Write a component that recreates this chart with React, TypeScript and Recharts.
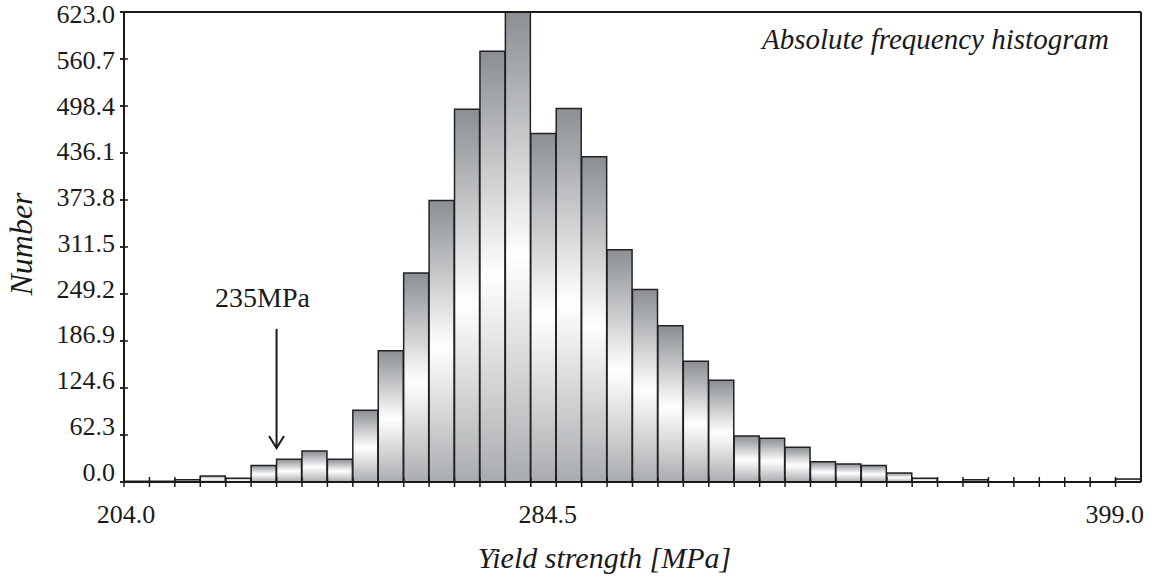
import { BarChart, Bar, XAxis, YAxis, ReferenceLine } from 'recharts';

// yield strength histogram, absolute frequency per bin
const xMin = 204.0;
const xMax = 399.0;
const yMax = 623.0;
const counts = [
  1, 1, 3, 8, 5, 22, 30, 41, 30, 95,
  174, 277, 373, 494, 571, 623, 462, 495, 431, 308,
  255, 207, 160, 135, 61, 58, 46, 27, 24, 22,
  12, 5, 0, 3, 0, 0, 0, 0, 0, 4,
];
const xLabels = [204.0, 284.5, 399.0];
const yTicks = [0, 62.3, 124.6, 186.9, 249.2, 311.5, 373.8, 436.1, 498.4, 560.7, 623.0];
const markValue = 235; // MPa, annotated with the arrow

const binWidth = (xMax - xMin) / counts.length;
const binEdges = counts.map((_, i) => xMin + i * binWidth).concat(xMax);
const data = counts.map((count, i) => ({ mid: binEdges[i] + binWidth / 2, count }));
const xTicks = [...binEdges, ...xLabels.filter((l) => !binEdges.includes(l))].sort((a, b) => a - b);
const arrowX = binEdges.reduce((a, b) => (Math.abs(b - markValue) < Math.abs(a - markValue) ? b : a));

const serif = "'Liberation Serif', 'Times New Roman', serif";
const ink = '#1a1a1a';

const XTick = (props: any) => {
  const { x, y, payload } = props;
  const v = payload.value;
  const isEdge = binEdges.some((e) => Math.abs(e - v) < 1e-6) && v !== xMax;
  const label = xLabels.find((l) => Math.abs(l - v) < 1e-6);
  return (
    <g>
      {isEdge && <line x1={x} x2={x} y1={y - 10} y2={y} stroke={ink} strokeWidth={1.5} />}
      {label !== undefined && (
        <text
          x={v === xMax ? x + 3 : v === xMin ? x + 2 : x + 4}
          y={y + 36}
          textAnchor={v === xMax ? 'end' : 'middle'}
          fontFamily={serif}
          fontSize={26}
          fill={ink}
        >
          {label.toFixed(1)}
        </text>
      )}
    </g>
  );
};

const YTick = (props: any) => {
  const { x, y, payload } = props;
  const shift = -10.5 + 12.5 * (Number(payload.value) / yMax);
  return (
    <text x={x - 5} y={y + shift} dy="0.35em" textAnchor="end" fontFamily={serif} fontSize={26} fill={ink}>
      {Number(payload.value).toFixed(1)}
    </text>
  );
};

const Arrow = (props: any) => {
  const { x1, y1, x2, y2 } = props;
  return (
    <g>
      <line x1={x1} y1={y1} x2={x2} y2={y2} stroke={ink} strokeWidth={2} />
      <polyline
        points={`${x2 - 7.5},${y2 - 12} ${x2},${y2} ${x2 + 7.5},${y2 - 12}`}
        fill="none"
        stroke={ink}
        strokeWidth={2}
      />
    </g>
  );
};

// short tick crossing the left axis, drawn from the y scale
const InnerTick = (props: any) => {
  const { x1, y1 } = props;
  return <line x1={x1 - 4} x2={x1 + 4} y1={y1} y2={y1} stroke={ink} strokeWidth={1.5} />;
};

export default function App() {
  return (
    <div style={{ position: 'absolute', left: 0, top: 0, width: 1153, height: 578, background: '#fff' }}>
      <BarChart
        width={1153}
        height={578}
        data={data}
        margin={{ top: 12, right: 12, left: 24, bottom: 0 }}
        barCategoryGap={0}
      >
        <defs>
          <linearGradient id="barShade" x1="0" y1="0" x2="0" y2="1">
            <stop offset="0%" stopColor="#8b8f93" />
            <stop offset="52%" stopColor="#ffffff" />
            <stop offset="100%" stopColor="#a9acaf" />
          </linearGradient>
        </defs>
        <XAxis
          dataKey="mid"
          type="number"
          domain={[xMin, xMax]}
          ticks={xTicks}
          interval={0}
          allowDataOverflow
          height={96}
          tickSize={5}
          tickMargin={0}
          tickLine={false}
          tick={<XTick />}
          axisLine={{ stroke: ink, strokeWidth: 2 }}
          label={{
            value: 'Yield strength [MPa]',
            position: 'insideBottom',
            offset: 10,
            dx: -28,
            fontFamily: serif,
            fontSize: 30,
            fontStyle: 'italic',
            fill: ink,
          }}
        />
        <YAxis
          type="number"
          domain={[0, yMax]}
          ticks={yTicks}
          interval={0}
          width={100}
          tickSize={4}
          tickMargin={0}
          tickLine={{ stroke: ink, strokeWidth: 1.5 }}
          tick={<YTick />}
          axisLine={{ stroke: ink, strokeWidth: 2 }}
          label={{
            value: 'Number',
            position: 'center',
            angle: -90,
            dx: -53,
            dy: -3,
            fontFamily: serif,
            fontSize: 32,
            fontStyle: 'italic',
            fill: ink,
          }}
        />
        <Bar
          dataKey="count"
          fill="url(#barShade)"
          stroke="#222"
          strokeWidth={1.5}
          isAnimationActive={false}
        />
        {yTicks.map((t) => (
          <ReferenceLine
            key={t}
            segment={[
              { x: xMin, y: t },
              { x: xMin, y: t },
            ]}
            ifOverflow="visible"
            shape={<InnerTick />}
          />
        ))}
        <ReferenceLine x={xMin} stroke={ink} strokeWidth={2} ifOverflow="visible" />
        <ReferenceLine x={xMax} stroke={ink} strokeWidth={2} ifOverflow="visible" />
        <ReferenceLine y={yMax} stroke={ink} strokeWidth={2} ifOverflow="visible" />
        <ReferenceLine
          segment={[
            { x: arrowX, y: 203 },
            { x: arrowX, y: 45 },
          ]}
          shape={<Arrow />}
        />
      </BarChart>
      <svg
        width={1153}
        height={578}
        style={{ position: 'absolute', left: 0, top: 0, pointerEvents: 'none' }}
      >
        <text x={762} y={49} fontFamily={serif} fontSize={29} fontStyle="italic" fill={ink}>
          Absolute frequency histogram
        </text>
        <text x={215} y={307} fontFamily={serif} fontSize={28} fill={ink}>
          235MPa
        </text>
      </svg>
    </div>
  );
}
